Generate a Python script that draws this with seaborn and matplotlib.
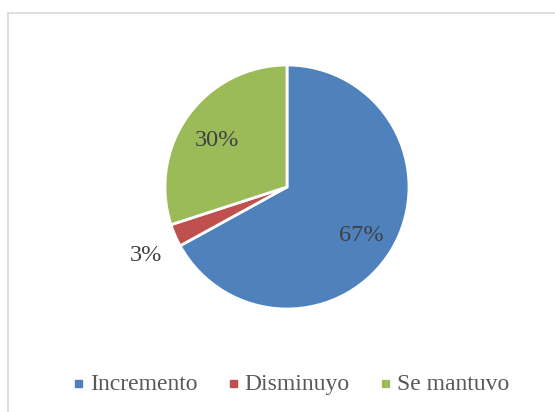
import numpy as np
import matplotlib
matplotlib.use("Agg")
import matplotlib.pyplot as plt
import matplotlib.transforms as mtransforms
import seaborn as sns
from matplotlib.lines import Line2D
from matplotlib.patches import Rectangle

categories = ["Incremento", "Disminuyo", "Se mantuvo"]
values = [67, 3, 30]
colors = ["#4F81BD", "#C0504D", "#9BBB59"]

sns.set_theme(style="white")
plt.rcParams['font.family'] = ['Liberation Serif', 'DejaVu Serif']

W, H = 555, 412
fig = plt.figure(figsize=(W / 100, H / 100), dpi=100)
fig.patch.set_facecolor("white")

# partial frame (left and top edges visible)
fig.add_artist(Line2D([8/W, 8/W], [0, 1 - 13/H], transform=fig.transFigure,
                      color="#D9D9D9", lw=1.2))
fig.add_artist(Line2D([8/W, 1], [1 - 13/H, 1 - 13/H], transform=fig.transFigure,
                      color="#D9D9D9", lw=1.2))

ax = fig.add_axes([165/W, 103/H, 244/W, 244/H])
pal = sns.color_palette(colors)
wedges, texts, autotexts = ax.pie(
    values, colors=pal, startangle=90, counterclock=False,
    autopct=lambda p: f"{p:.0f}%", pctdistance=0.71,
    wedgeprops=dict(edgecolor="white", linewidth=2),
    textprops=dict(fontsize=17.5, color="#404040"))
ax.set_xlim(-1, 1)
ax.set_ylim(-1, 1)
ax.set_aspect("equal")

# move the small slice label outside; nudge labels slightly down
for w, t, v in zip(wedges, autotexts, values):
    if v < 5:
        ang = np.deg2rad((w.theta1 + w.theta2) / 2)
        t.set_position((1.255 * np.cos(ang), 1.33 * np.sin(ang)))
    t.set_transform(mtransforms.offset_copy(ax.transData, fig=fig, x=0, y=-4, units="dots"))

# legend drawn with baseline-aligned texts
renderer = fig.canvas.get_renderer()
msize, mgap, cgap = 7, 8, 32
baseline_y, marker_cy, center_x = 390, 383, 292
items = []
for lab in categories:
    t = fig.text(0, 1 - baseline_y / H, lab, fontsize=17, color="#595959",
                 va="baseline", ha="left")
    wpx = t.get_window_extent(renderer).width
    items.append((t, wpx))
total = sum(msize + mgap + wpx for _, wpx in items) + cgap * (len(items) - 1)
x = center_x - total / 2
for (t, wpx), c in zip(items, colors):
    fig.add_artist(Rectangle((x / W, 1 - (marker_cy + msize / 2) / H), msize / W, msize / H,
                             transform=fig.transFigure, color=c))
    x += msize + mgap
    t.set_x(x / W)
    x += wpx + cgap

fig.savefig("out.png", dpi=100)
